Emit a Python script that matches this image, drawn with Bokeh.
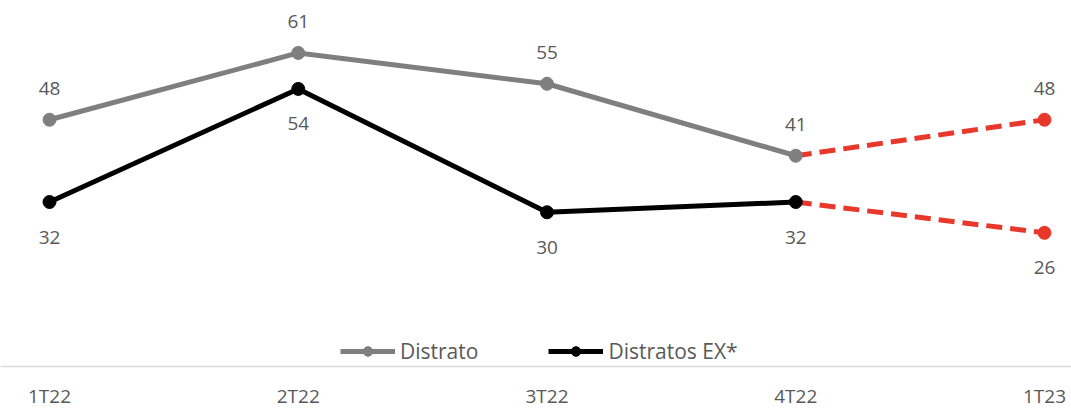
from bokeh.plotting import figure
from bokeh.models import ColumnDataSource, Range1d, FixedTicker, Legend, LegendItem
from bokeh.embed import file_html
from bokeh.resources import INLINE
from bokeh.core.properties import value

categories = ["1T22", "2T22", "3T22", "4T22", "1T23"]
distrato = [48, 61, 55, 41, 48]
distratos_ex = [32, 54, 30, 32, 26]

FONT = "Open Sans"
TXT = "#595959"
GRAY = "#7f7f7f"
BLACK = "#000000"
RED = "#e8382b"

xs = list(range(len(categories)))
n_real = 4  # first four quarters are actual, last is projected

p = figure(width=1071, height=411, output_backend="svg", toolbar_location=None,
           x_range=Range1d(-0.197, 4.1085), y_range=Range1d(0, 71.2),
           y_axis_location=None,
           min_border_left=0, min_border_right=0, min_border_top=0, min_border_bottom=0)
p.outline_line_color = None
p.xgrid.visible = False
p.ygrid.visible = False

# projected dashed segments
p.line(xs[n_real - 1:], distrato[n_real - 1:], line_color=RED, line_width=5, line_dash="16 8")
p.line(xs[n_real - 1:], distratos_ex[n_real - 1:], line_color=RED, line_width=5, line_dash="16 8")
p.scatter(xs[n_real:], distrato[n_real:], size=13, color=RED)
p.scatter(xs[n_real:], distratos_ex[n_real:], size=13, color=RED)

# actual series
g_line = p.line(xs[:n_real], distrato[:n_real], line_color=GRAY, line_width=5)
g_pts = p.scatter(xs[:n_real], distrato[:n_real], size=13, color=GRAY)
b_line = p.line(xs[:n_real], distratos_ex[:n_real], line_color=BLACK, line_width=5)
b_pts = p.scatter(xs[:n_real], distratos_ex[:n_real], size=13, color=BLACK)

# data labels
src_g = ColumnDataSource(dict(x=xs, y=distrato, t=[str(v) for v in distrato]))
src_b = ColumnDataSource(dict(x=xs, y=distratos_ex, t=[str(v) for v in distratos_ex]))
p.text(x="x", y="y", text="t", source=src_g, text_font=value(FONT), text_font_size="19px",
       text_color=TXT, text_align="center", text_baseline="middle", y_offset=-31)
p.text(x="x", y="y", text="t", source=src_b, text_font=value(FONT), text_font_size="19px",
       text_color=TXT, text_align="center", text_baseline="middle", y_offset=35)

# x axis
ax = p.xaxis[0]
ax.ticker = FixedTicker(ticks=xs)
ax.major_label_overrides = {i: c for i, c in enumerate(categories)}
ax.major_label_text_font = FONT
ax.major_label_text_font_size = "19px"
ax.major_label_text_color = TXT
ax.major_label_text_line_height = 0.9
ax.major_label_standoff = 16
ax.axis_line_color = "#d9d9d9"
ax.axis_line_width = 1.5
ax.major_tick_line_color = None
ax.minor_tick_line_color = None
ax.major_tick_out = 0
ax.major_tick_in = 0

legend = Legend(items=[LegendItem(label="Distrato", renderers=[g_line, g_pts]),
                       LegendItem(label="Distratos EX*", renderers=[b_line, b_pts])],
                location=(340, 1), orientation="horizontal",
                glyph_width=55, glyph_height=24, label_standoff=5, spacing=70,
                padding=0, margin=0, border_line_color=None, background_fill_alpha=0,
                label_text_font=FONT, label_text_font_size="21px", label_text_color=TXT)
p.add_layout(legend, "center")

open("out.html", "w").write(file_html(p, INLINE))
